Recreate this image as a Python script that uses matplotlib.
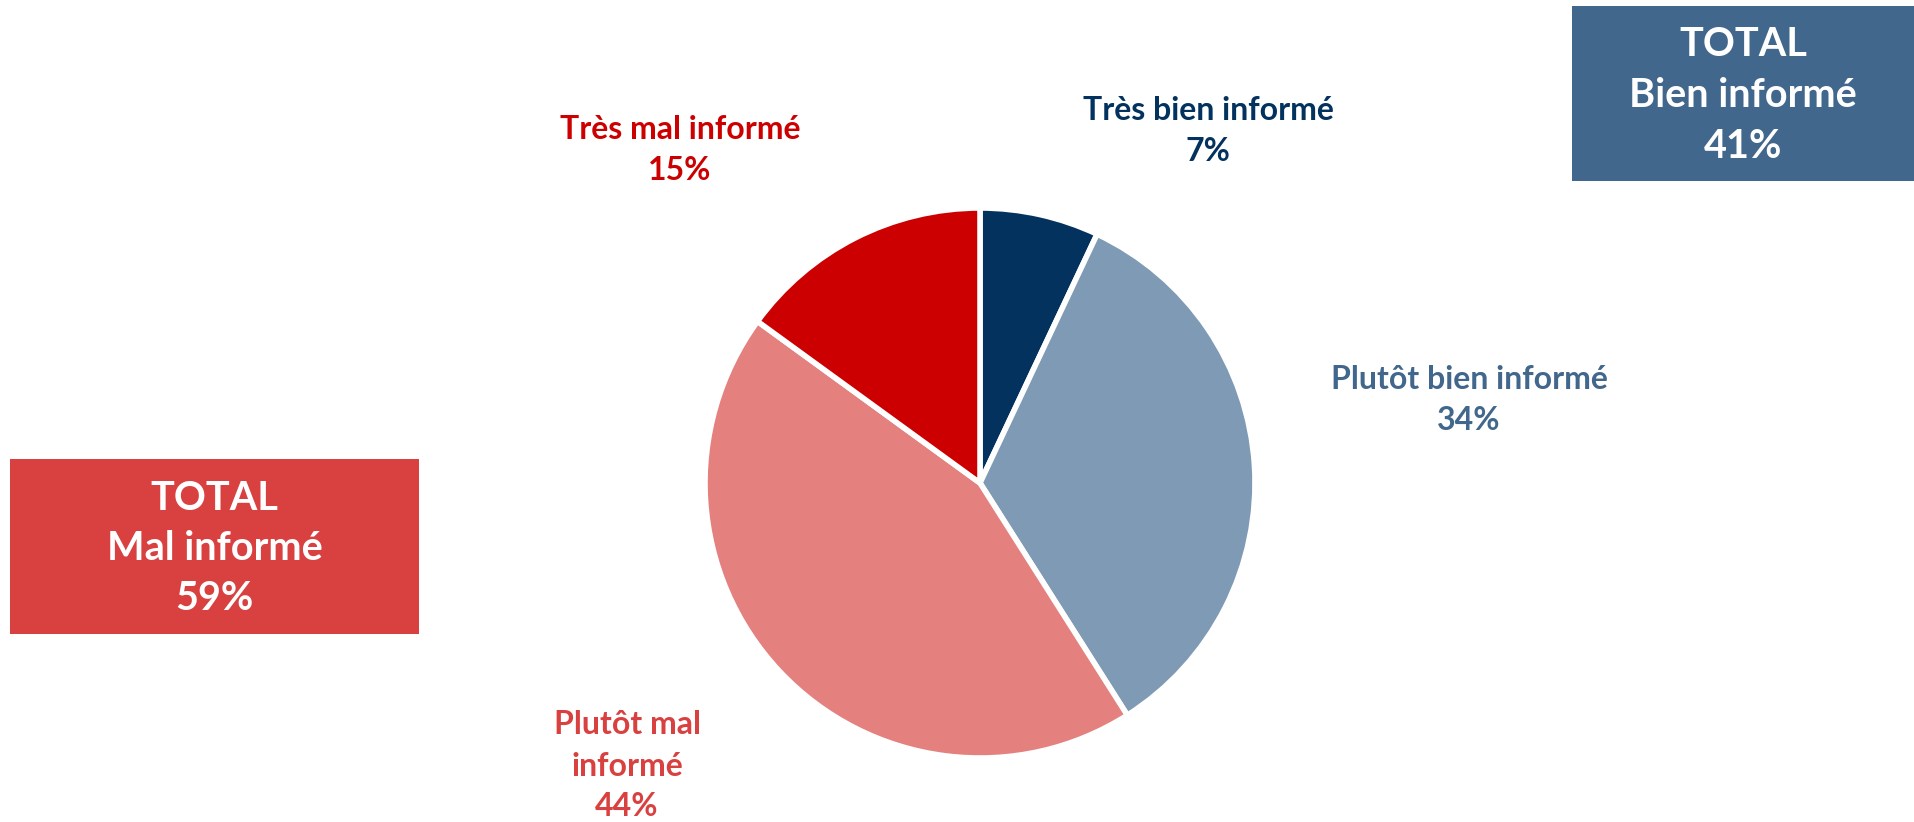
import matplotlib
matplotlib.use("Agg")
import matplotlib.pyplot as plt
from matplotlib.patches import Rectangle

plt.rcParams['font.family'] = ['Lato', 'DejaVu Sans']

# Data
categories = ["Très bien informé", "Plutôt bien informé", "Plutôt mal\ninformé", "Très mal informé"]
values = [7, 34, 44, 15]
slice_colors = ["#03325F", "#7F9AB4", "#E4807E", "#CC0000"]
label_colors = ["#03325F", "#41678C", "#D94141", "#CC0000"]
total_titles = ["TOTAL\nBien informé", "TOTAL\nMal informé"]
total_values = [values[0] + values[1], values[2] + values[3]]
box_colors = ["#41678C", "#D94141"]

W, H = 1914, 822
fig = plt.figure(figsize=(W / 100, H / 100), dpi=100)
ax = fig.add_axes([0, 0, 1, 1])
ax.set_xlim(0, W)
ax.set_ylim(0, H)
ax.set_aspect('equal')
ax.axis('off')

ax.pie(values, colors=slice_colors, startangle=90, counterclock=False,
       center=(980, H - 483), radius=275,
       wedgeprops=dict(edgecolor='white', linewidth=4))
ax.set_xlim(0, W)
ax.set_ylim(0, H)

# slice labels
label_pos = [(1208, 131), (1469, 400), (627, 766), (680, 150)]
for cat, v, col, (x, y) in zip(categories, values, label_colors, label_pos):
    ax.text(x, H - y, f"{cat}\n{v}%", ha='center', va='center', color=col,
            fontsize=23, fontweight='bold', linespacing=1.5)

# total boxes
boxes = [(1572, 6, 1914, 181), (10, 459, 419, 634)]
for (x0, y0, x1, y1), title, tv, bc in zip(boxes, total_titles, total_values, box_colors):
    ax.add_patch(Rectangle((x0, H - y1), x1 - x0, y1 - y0, facecolor=bc, edgecolor='none'))
    ax.text((x0 + x1) / 2, H - (y0 + y1) / 2 - 2, f"{title}\n{tv}%", ha='center', va='center',
            color='white', fontsize=28.5, fontweight='bold', linespacing=1.45)

fig.savefig("out.png", dpi=100, facecolor='white')
